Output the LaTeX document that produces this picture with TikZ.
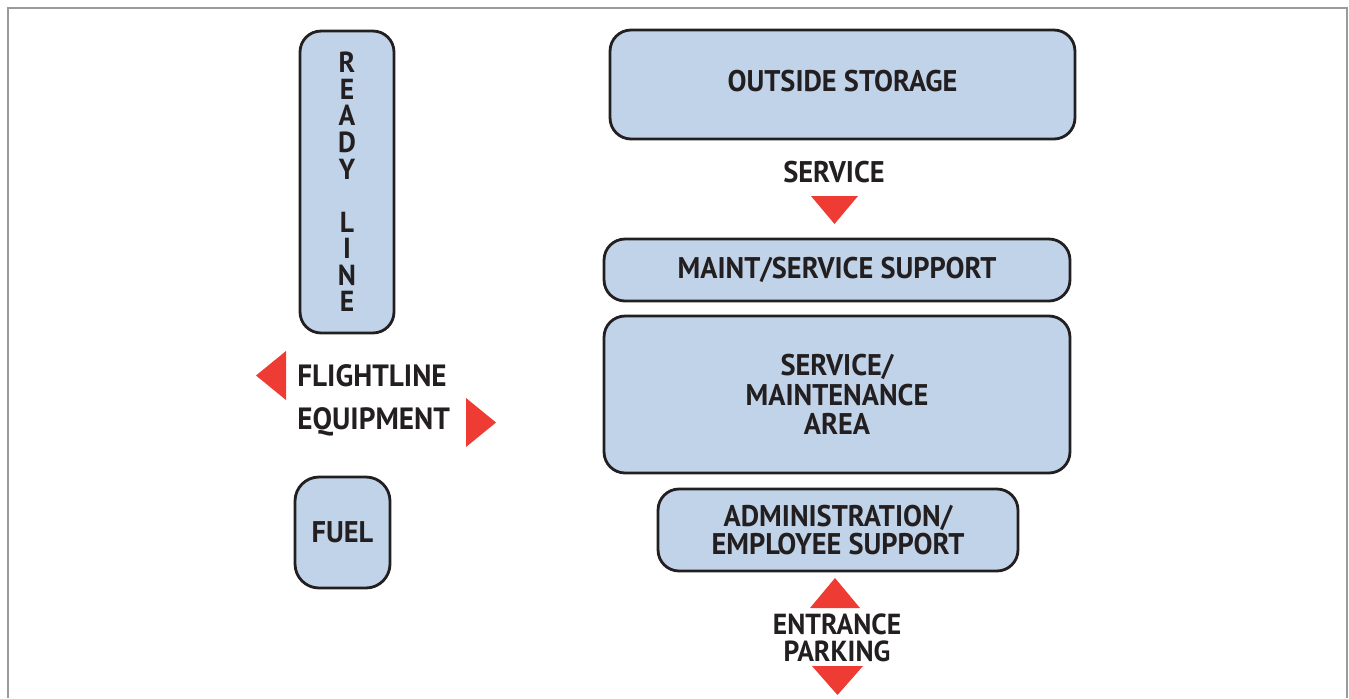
\documentclass[tikz,border=0pt]{standalone}
\usepackage{fontspec}
\setmainfont{PT Sans}[FakeStretch=0.95]
\usetikzlibrary{calc}
\definecolor{AreaBlue}{HTML}{C0D3E8}
\definecolor{ArrowRed}{HTML}{EE3B33}
\definecolor{EdgeBlack}{HTML}{231F20}
\definecolor{FrameGray}{HTML}{9A9A9A}
\newcommand{\areafont}{\bfseries\fontsize{17}{16.7}\selectfont}

\tikzset{
  area/.style={draw=EdgeBlack, line width=1.6pt, fill=AreaBlue,
    rounded corners=0.42cm, align=center, inner sep=0pt,
    text=EdgeBlack, font=\areafont},
  tag/.style={align=center, inner sep=0pt, text=EdgeBlack, font=\areafont},
  pointer/.style={fill=ArrowRed, draw=none},
}

\begin{document}
\begin{tikzpicture}[x=0.02cm, y=-0.02cm]
    \useasboundingbox (0,0) rectangle (1349,698);
    % open frame round the plan
    \draw[FrameGray, line width=1.4pt] (8,698) -- (8,8) -- (1347,8) -- (1347,698);

    % flightline side
    \node[area, minimum width=1.88cm, minimum height=6.04cm,
          font=\bfseries\fontsize{16.5}{15.1}\selectfont] (ready) at (347,182)
          {R\\E\\A\\D\\Y\\~\\L\\I\\N\\E};
    \node[tag, align=left, anchor=west, font=\bfseries\fontsize{17.5}{24.4}\selectfont]
          (flight) at (297,400) {FLIGHTLINE\\EQUIPMENT};
    \node[area, minimum width=1.9cm, minimum height=2.22cm, rounded corners=0.48cm]
          (fuel) at (342.5,532.5) {FUEL};
    \fill[pointer] (286,351) -- (286,400) -- (256,375.5) -- cycle;
    \fill[pointer] (466,398) -- (466,447) -- (496,422.5) -- cycle;

    % hangar side
    \node[area, minimum width=9.3cm, minimum height=2.18cm, text depth=0.16cm]
          (storage) at (842.5,84.5) {OUTSIDE STORAGE};
    \node[tag] (service) at (834,172) {SERVICE};
    \fill[pointer] (811,196) -- (858,196) -- (834.5,224) -- cycle;
    \node[area, minimum width=9.32cm, minimum height=1.24cm] (support) at (837,270)
          {MAINT/SERVICE SUPPORT};
    \node[area, minimum width=9.32cm, minimum height=3.14cm,
          font=\bfseries\fontsize{17}{16.7}\selectfont] (maint) at (837,394.5)
          {SERVICE/\\MAINTENANCE\\AREA};
    \node[area, minimum width=7.2cm, minimum height=1.64cm,
          font=\bfseries\fontsize{17}{16}\selectfont] (admin) at (838,530)
          {ADMINISTRATION/\\EMPLOYEE SUPPORT};

    % way in from the road
    \fill[pointer] (810,608) -- (860,608) -- (835,578) -- cycle;
    \node[tag, font=\bfseries\fontsize{16.5}{15}\selectfont] (entrance) at (837,638)
          {ENTRANCE\\PARKING};
    \fill[pointer] (812,666) -- (863,666) -- (837.5,695) -- cycle;
\end{tikzpicture}
\end{document}
